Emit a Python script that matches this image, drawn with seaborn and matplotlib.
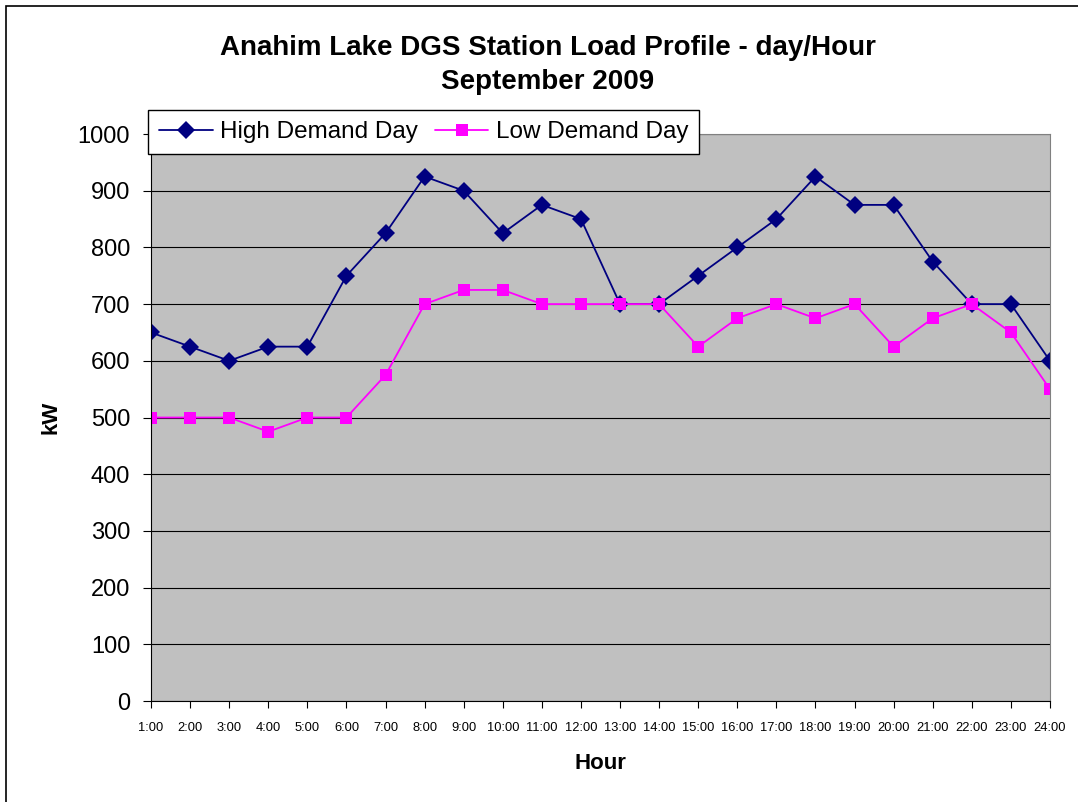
import matplotlib
matplotlib.use("Agg")
import matplotlib.pyplot as plt
import seaborn as sns
import pandas as pd

hours = [f"{h}:00" for h in range(1, 25)]
high_demand = [650, 625, 600, 625, 625, 750, 825, 925, 900, 825, 875, 850,
               700, 700, 750, 800, 850, 925, 875, 875, 775, 700, 700, 600]
low_demand = [500, 500, 500, 475, 500, 500, 575, 700, 725, 725, 700, 700,
              700, 700, 625, 675, 700, 675, 700, 625, 675, 700, 650, 550]

df = pd.DataFrame({
    "idx": list(range(24)) * 2,
    "kW": high_demand + low_demand,
    "series": ["High Demand Day"] * 24 + ["Low Demand Day"] * 24,
})

sns.set_style("white")
plt.rcParams['font.family'] = ['Liberation Sans', 'DejaVu Sans']
plt.rcParams['text.color'] = 'black'
plt.rcParams['axes.labelcolor'] = 'black'
plt.rcParams['xtick.color'] = 'black'
plt.rcParams['ytick.color'] = 'black'

fig = plt.figure(figsize=(10.78, 8.02), dpi=100)
ax = fig.add_axes([0.1401, 0.1259, 0.8339, 0.707])
ax.set_facecolor("#C0C0C0")

sns.lineplot(data=df, x="idx", y="kW", hue="series", style="series",
             palette={"High Demand Day": "#000080", "Low Demand Day": "#FF00FF"},
             markers={"High Demand Day": "D", "Low Demand Day": "s"},
             dashes=False, markersize=9, linewidth=1.3, markeredgewidth=0,
             ax=ax, legend=True)

ax.set_xlim(0, 23)
ax.set_ylim(0, 1000)
ax.set_yticks(range(0, 1001, 100))
ax.set_xticks(range(24))
ax.set_xticklabels(hours, fontsize=9.3)
ax.tick_params(axis='y', labelsize=17, length=6, width=0.8, direction='out', left=True,
               color='black', labelcolor='black', pad=9)
ax.tick_params(axis='x', length=5, width=0.8, direction='out', bottom=True,
               color='black', labelcolor='black', pad=10)
ax.grid(axis='y', color='black', linewidth=0.8)
ax.grid(axis='x', visible=False)
for s in ax.spines.values():
    s.set_color('#808080')
    s.set_linewidth(0.8)
ax.spines['left'].set_color('black')
ax.spines['bottom'].set_color('black')

ax.set_xlabel("Hour", fontsize=16, fontweight='bold', labelpad=14, color='black')
ax.set_ylabel("kW", fontsize=16, fontweight='bold', labelpad=12, color='black')

fig.text(0.508, 1 - 48 / 802, "Anahim Lake DGS Station Load Profile - day/Hour",
         fontsize=20, fontweight='bold', ha='center', va='center', color='black')
fig.text(0.508, 1 - 82 / 802, "September 2009",
         fontsize=20, fontweight='bold', ha='center', va='center', color='black')

h, l = ax.get_legend_handles_labels()
leg = ax.legend(h, l, ncol=2, loc='upper left', bbox_to_anchor=(-0.003, 1.042),
                fontsize=17.5, frameon=True, fancybox=False, edgecolor='black',
                framealpha=1, handlelength=2.2, handletextpad=0.3, columnspacing=0.7,
                borderpad=0.45, borderaxespad=0)
leg.get_frame().set_linewidth(1.0)
for t in leg.get_texts():
    t.set_color('black')

fig.patches.append(plt.Rectangle((6/1078, -0.1), 2, 1.1 - 6/802, transform=fig.transFigure,
                                 fill=False, edgecolor='black', linewidth=1.2))

fig.savefig("out.png", dpi=100)
